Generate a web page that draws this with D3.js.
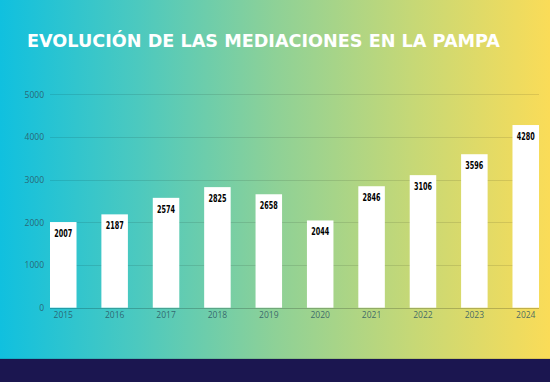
<!DOCTYPE html>
<html><head><meta charset="utf-8">
<script src="https://cdn.jsdelivr.net/npm/d3@7"></script>
<style>html,body{margin:0;padding:0;overflow:hidden;}svg{display:block;}</style>
</head><body>
<script>
const title = "EVOLUCIÓN DE LAS MEDIACIONES EN LA PAMPA";
const years = ["2015","2016","2017","2018","2019","2020","2021","2022","2023","2024"];
const values = [2007,2187,2574,2825,2658,2044,2846,3106,3596,4280];
const yTicks = [0,1000,2000,3000,4000,5000];

const W = 550, H = 382;
const svg = d3.select("body").append("svg").attr("width", W).attr("height", H);
const defs = svg.append("defs");
const g = defs.append("linearGradient").attr("id","bg").attr("x1","0").attr("x2","1").attr("y1","0").attr("y2","0");
[[0,"#10c0df"],[0.25,"#4cc9bf"],[0.5,"#8ed197"],[0.75,"#c6d876"],[1,"#fadc58"]].forEach(([o,c])=>g.append("stop").attr("offset",o).attr("stop-color",c));
svg.append("rect").attr("width",W).attr("height",359).attr("fill","url(#bg)");
svg.append("rect").attr("y",359).attr("width",W).attr("height",H-359).attr("fill","#1b1650");
svg.append("rect").attr("y",358).attr("width",W).attr("height",1).attr("fill","#000").attr("opacity",0.1);

svg.append("text").attr("x",27).attr("y",46.5).attr("textLength",473).attr("lengthAdjust","spacingAndGlyphs")
  .attr("font-family","DejaVu Sans").attr("font-weight","bold").attr("font-size",17.5).attr("fill","#fff").text(title);

const x = d3.scaleBand().domain(years).range([50,539]).paddingInner(0.484).paddingOuter(0);
const y = d3.scaleLinear().domain([0,5000]).range([307.7,94.3]);

const grid = svg.append("g");
grid.selectAll("line").data(yTicks).join("line")
  .attr("x1",50).attr("x2",539).attr("y1",d=>Math.round(y(d))+0.5).attr("y2",d=>Math.round(y(d))+0.5)
  .attr("stroke","#000").attr("stroke-opacity",d=>d===0?0.2:0.1).attr("stroke-width",1);

const yAxis = svg.append("g").attr("transform","translate(44,0)")
  .call(d3.axisLeft(y).tickValues(yTicks).tickSize(0).tickPadding(0).tickFormat(d3.format("d")));
yAxis.select(".domain").remove();
yAxis.selectAll("text").attr("font-family","Open Sans, sans-serif").attr("font-size",8.5).attr("fill","#2c5563").attr("fill-opacity",0.85);

const xAxis = svg.append("g").attr("transform","translate(0,309)")
  .call(d3.axisBottom(x).tickSize(0).tickPadding(3));
xAxis.select(".domain").remove();
xAxis.selectAll("text").attr("font-family","Open Sans, sans-serif").attr("font-size",8.5).attr("fill","#2c5563").attr("fill-opacity",0.85);

svg.append("g").selectAll("rect").data(values).join("rect")
  .attr("x",(d,i)=>x(years[i])).attr("width",x.bandwidth())
  .attr("y",d=>y(d)).attr("height",d=>y(0)-y(d)).attr("fill","#fff");

svg.append("g").selectAll("text").data(values).join("text")
  .attr("x",(d,i)=>x(years[i])+x.bandwidth()/2-9).attr("y",d=>y(d)+15)
  .attr("textLength",18).attr("lengthAdjust","spacingAndGlyphs")
  .attr("font-family","DejaVu Sans Condensed").attr("font-weight","bold").attr("font-size",10)
  .attr("fill","#000").text(d=>d);
</script>
</body></html>
